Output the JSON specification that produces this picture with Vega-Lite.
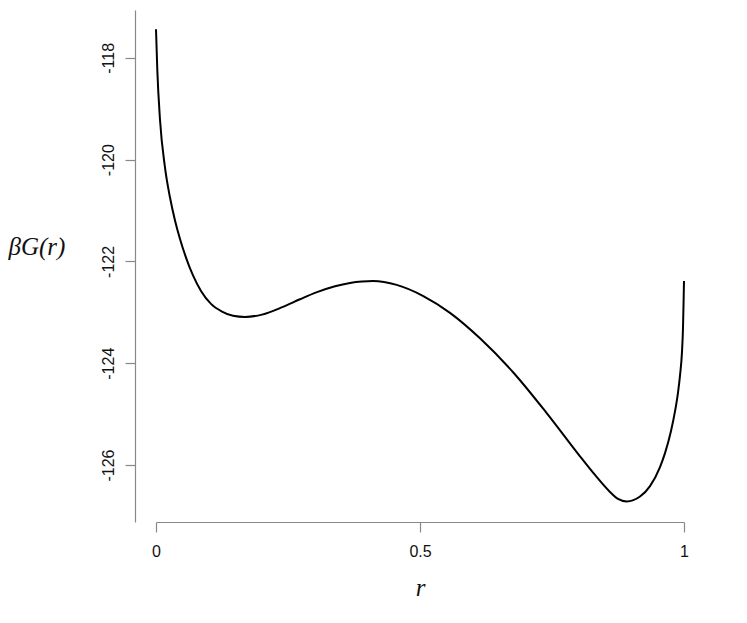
{
  "$schema": "https://vega.github.io/schema/vega-lite/v6.json",
  "autosize": {"type": "none"},
  "width": 528,
  "height": 512,
  "padding": {"left": 156, "top": 10, "right": 63, "bottom": 101},
  "background": "white",
  "config": {"view": {"stroke": null}},
  "data": {"values": [
    {"r": 0, "G": -117.437},
    {"r": 0.00246, "G": -118.235},
    {"r": 0.00758, "G": -119.216},
    {"r": 0.01705, "G": -120.157},
    {"r": 0.02652, "G": -120.745},
    {"r": 0.03598, "G": -121.196},
    {"r": 0.04545, "G": -121.559},
    {"r": 0.05682, "G": -121.924},
    {"r": 0.07008, "G": -122.275},
    {"r": 0.08523, "G": -122.58},
    {"r": 0.10417, "G": -122.835},
    {"r": 0.125, "G": -122.986},
    {"r": 0.14583, "G": -123.069},
    {"r": 0.16856, "G": -123.092},
    {"r": 0.20076, "G": -123.045},
    {"r": 0.24053, "G": -122.892},
    {"r": 0.27273, "G": -122.743},
    {"r": 0.30492, "G": -122.604},
    {"r": 0.33902, "G": -122.488},
    {"r": 0.36742, "G": -122.424},
    {"r": 0.39015, "G": -122.396},
    {"r": 0.41098, "G": -122.386},
    {"r": 0.45587, "G": -122.461},
    {"r": 0.50625, "G": -122.68},
    {"r": 0.55682, "G": -123.01},
    {"r": 0.61364, "G": -123.51},
    {"r": 0.6767, "G": -124.182},
    {"r": 0.73996, "G": -124.98},
    {"r": 0.80303, "G": -125.829},
    {"r": 0.83144, "G": -126.196},
    {"r": 0.85985, "G": -126.529},
    {"r": 0.875, "G": -126.665},
    {"r": 0.89148, "G": -126.716},
    {"r": 0.91667, "G": -126.62},
    {"r": 0.93561, "G": -126.414},
    {"r": 0.95455, "G": -126.041},
    {"r": 0.96402, "G": -125.767},
    {"r": 0.97538, "G": -125.331},
    {"r": 0.98295, "G": -124.947},
    {"r": 0.98864, "G": -124.576},
    {"r": 0.99242, "G": -124.243},
    {"r": 0.99621, "G": -123.773},
    {"r": 0.99811, "G": -123.302},
    {"r": 0.99943, "G": -122.684},
    {"r": 1.0, "G": -122.386}
  ]},
  "mark": {"type": "line", "color": "black", "strokeWidth": 2, "interpolate": "monotone", "clip": false},
  "encoding": {
    "x": {
      "field": "r", "type": "quantitative",
      "scale": {"domain": [0, 1], "nice": false, "zero": false},
      "axis": {
        "values": [0, 0.5, 1],
        "labelExpr": "'' + datum.value",
        "grid": false,
        "domainColor": "#888888", "domainWidth": 1.2,
        "tickColor": "#888888", "tickWidth": 1.2, "tickSize": 10,
        "labelFont": "Liberation Sans", "labelFontSize": 16, "labelColor": "#111111",
        "labelPadding": 11,
        "labelFlush": false,
        "title": "r",
        "titleFont": "Liberation Serif", "titleFontStyle": "italic", "titleFontWeight": "normal",
        "titleFontSize": 25, "titleColor": "#111111",
        "titleBaseline": "alphabetic", "titleY": 73
      }
    },
    "y": {
      "field": "G", "type": "quantitative",
      "scale": {"domain": [-127.12, -117.06], "nice": false, "zero": false},
      "axis": {
        "values": [-118, -120, -122, -124, -126],
        "labelExpr": "'' + datum.value",
        "offset": 21,
        "grid": false,
        "domainColor": "#888888", "domainWidth": 1.2,
        "tickColor": "#888888", "tickWidth": 1.2, "tickSize": 10,
        "labelFont": "Liberation Sans", "labelFontSize": 16, "labelColor": "#111111",
        "labelAngle": -90, "labelAlign": "center", "labelBaseline": "bottom",
        "labelPadding": 9,
        "labelFlush": false,
        "title": "βG(r)",
        "titleFont": "Liberation Serif", "titleFontStyle": "italic", "titleFontWeight": "normal",
        "titleFontSize": 25, "titleColor": "#111111",
        "titleAngle": 0, "titleAlign": "left", "titleBaseline": "middle",
        "titleX": -127, "titleY": 236
      }
    }
  }
}
